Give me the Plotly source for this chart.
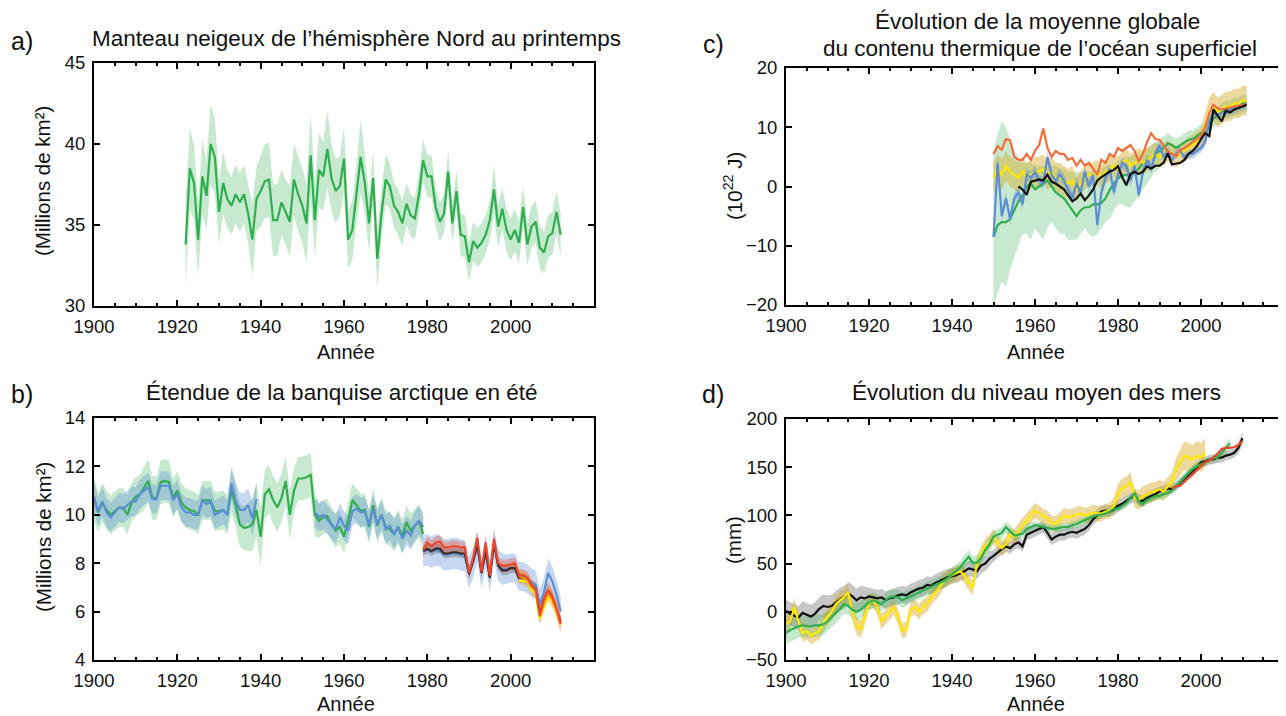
import plotly.graph_objects as go

# ---------------- DATA ----------------
X_TICKS = [1900, 1920, 1940, 1960, 1980, 2000]

# a) Northern Hemisphere spring snow cover (million km2)
snow_years = list(range(1922, 2013))
snow = [33.8, 38.5, 37.6, 34.1, 38.0, 36.8, 40.0, 39.2, 35.8, 37.6,
        36.6, 36.2, 36.9, 36.4, 36.9, 35.7, 34.1, 36.6, 37.1, 37.7,
        37.8, 35.3, 35.3, 36.4, 35.8, 35.2, 37.8, 36.9, 36.2, 35.1,
        39.3, 35.3, 38.4, 38.0, 39.7, 37.9, 37.1, 37.4, 39.1, 34.1,
        34.7, 36.9, 39.2, 37.6, 35.1, 37.9, 32.9, 35.7, 37.8, 37.4,
        36.2, 35.8, 35.1, 36.3, 35.6, 35.4, 36.9, 39.0, 38.0, 38.0,
        36.1, 35.2, 35.7, 38.3, 35.1, 37.1, 34.4, 34.3, 32.7, 34.0,
        33.6, 33.9, 34.4, 35.3, 37.2, 34.9, 36.0, 34.7, 34.1, 34.7,
        33.9, 36.1, 33.8, 34.9, 35.2, 33.6, 33.3, 34.3, 34.5, 35.8, 34.4]
snow_err = [2.6, 2.5, 2.3, 2.3, 2.3, 2.1, 2.5, 2.3, 2.0, 1.9,
            1.8, 1.8, 1.8, 1.8, 1.8, 1.8, 2.2, 2.0, 2.2, 2.3,
            2.3, 2.2, 2.2, 2.0, 2.0, 2.2, 2.2, 2.3, 2.3, 2.4,
            2.6, 2.2, 2.3, 2.1, 2.4, 2.0, 2.0, 1.8, 2.0, 1.8,
            1.8, 1.8, 2.3, 1.8, 1.8, 1.6, 1.8, 1.5, 1.5, 1.4,
            1.4, 1.4, 1.4, 1.3, 1.3, 1.3, 1.3, 1.3, 1.3, 1.3,
            1.2, 1.2, 1.2, 1.3, 1.2, 1.3, 1.3, 1.3, 1.2, 1.2,
            1.2, 1.2, 1.2, 1.2, 1.5, 1.3, 1.3, 1.3, 1.3, 1.3,
            1.3, 1.3, 1.3, 1.3, 1.3, 1.3, 1.3, 1.3, 1.3, 1.3, 1.3]

# b) Arctic summer sea-ice extent (million km2)
ice_green_years = list(range(1900, 1980))
ice_green = [10.65, 10.1, 10.5, 10.2, 10.0, 10.15, 10.3, 10.3, 10.0, 10.5,
             10.75, 10.85, 11.1, 11.4, 10.7, 10.7, 11.35, 11.4, 11.35, 10.7,
             11.0, 10.5, 10.3, 10.2, 10.15, 10.0, 10.6, 10.6, 10.6, 10.15,
             10.15, 10.2, 10.0, 11.0, 10.4, 9.6, 9.45, 9.5, 9.6, 10.2,
             9.1, 10.85, 11.05, 10.6, 10.3, 10.7, 11.4, 10.0, 11.0, 11.5,
             11.5, 11.55, 11.65, 10.0, 9.75, 9.9, 9.95, 9.6, 9.35, 9.5,
             9.1, 9.8, 10.6, 10.4, 10.15, 10.2, 9.5, 10.4, 9.55, 10.0,
             9.5, 9.4, 9.2, 9.5, 9.1, 9.7, 9.35, 9.55, 9.75, 9.2]
ice_green_err = [0.9, 0.8, 0.8, 0.8, 0.8, 0.8, 0.8, 0.8, 0.8, 0.8,
                 0.8, 0.8, 0.9, 0.9, 0.9, 0.9, 0.9, 0.9, 0.9, 0.8,
                 0.8, 0.8, 0.8, 0.8, 0.8, 0.8, 0.8, 0.8, 0.8, 0.8,
                 0.8, 0.8, 0.8, 0.9, 0.9, 0.9, 0.9, 1.0, 1.1, 1.1,
                 1.2, 1.0, 1.0, 1.0, 1.0, 1.0, 1.0, 1.0, 0.9, 0.9,
                 0.9, 0.9, 0.9, 0.9, 0.7, 0.7, 0.7, 0.7, 0.7, 0.7,
                 0.7, 0.7, 0.7, 0.7, 0.7, 0.7, 0.7, 0.7, 0.7, 0.7,
                 0.7, 0.7, 0.7, 0.7, 0.7, 0.7, 0.7, 0.7, 0.7, 0.7]
ice_blue1_years = list(range(1900, 1940))
ice_blue1 = [10.75, 10.15, 10.55, 10.1, 9.9, 10.1, 10.3, 10.25, 10.4, 10.55,
             10.55, 10.85, 11.0, 11.15, 10.65, 10.65, 11.2, 11.2, 11.2, 10.6,
             10.85, 10.3, 10.1, 10.1, 10.0, 10.0, 10.6, 10.45, 10.55, 10.0,
             10.1, 10.2, 10.0, 11.3, 10.6, 10.2, 10.2, 10.4, 9.85, 10.65]
ice_blue1_err = [0.6, 0.6, 0.6, 0.6, 0.6, 0.6, 0.6, 0.6, 0.6, 0.6,
                 0.6, 0.6, 0.6, 0.6, 0.6, 0.6, 0.6, 0.6, 0.6, 0.6,
                 0.6, 0.6, 0.6, 0.6, 0.6, 0.6, 0.6, 0.6, 0.6, 0.6,
                 0.6, 0.6, 0.6, 0.7, 0.7, 0.7, 0.7, 0.7, 0.7, 0.7]
ice_blue2_years = list(range(1953, 1980))
ice_blue2 = [10.1, 9.9, 10.0, 9.8, 9.6, 9.4, 9.9, 9.55, 9.35, 10.15,
             10.25, 10.1, 10.15, 9.6, 10.25, 9.6, 10.0, 9.4, 9.55, 9.2,
             9.5, 9.0, 9.35, 9.15, 9.55, 9.75, 9.5]
ice_blue2_err = [0.6, 0.6, 0.6, 0.6, 0.6, 0.6, 0.6, 0.6, 0.6, 0.6,
                 0.6, 0.6, 0.6, 0.6, 0.6, 0.6, 0.6, 0.6, 0.6, 0.6,
                 0.6, 0.6, 0.6, 0.6, 0.6, 0.6, 0.6]
sat_years = list(range(1979, 2013))
ice_red = [8.55, 8.85, 8.7, 8.85, 8.9, 8.65, 8.65, 8.7, 8.7, 8.65,
           8.65, 7.6, 8.2, 9.05, 7.65, 8.85, 7.5, 9.0, 8.0, 7.9,
           7.9, 7.95, 8.0, 7.5, 7.5, 7.4, 7.1, 6.95, 5.85, 6.55,
           6.9, 6.6, 6.15, 5.5]
ice_black = [8.5, 8.6, 8.5, 8.6, 8.6, 8.4, 8.4, 8.45, 8.45, 8.4,
             8.4, 7.55, 8.1, 8.8, 7.6, 8.5, 7.4, 8.85, 7.9, 7.7,
             7.7, 7.8, 7.8, 7.4, 7.4, 7.3, 7.05, 6.85, 5.95, 6.4,
             6.75, 6.55, 6.05, 5.6]
ice_blue3 = [8.5, 8.55, 8.45, 8.55, 8.5, 8.35, 8.35, 8.4, 8.4, 8.35,
             8.3, 7.6, 8.05, 8.7, 7.6, 8.45, 7.45, 8.8, 7.9, 7.75,
             7.75, 7.8, 7.8, 7.45, 7.45, 7.35, 7.2, 7.1, 6.3, 6.8,
             7.6, 7.25, 6.7, 6.0]
ice_blue3_err = [0.65, 0.65, 0.65, 0.65, 0.65, 0.65, 0.65, 0.65, 0.65, 0.65,
                 0.65, 0.65, 0.65, 0.65, 0.65, 0.65, 0.65, 0.65, 0.65, 0.65,
                 0.6, 0.6, 0.6, 0.6, 0.6, 0.6, 0.6, 0.6, 0.6, 0.6,
                 0.6, 0.6, 0.6, 0.6]
ice_red_err = [0.25, 0.25, 0.25, 0.25, 0.25, 0.25, 0.25, 0.25, 0.25, 0.25,
               0.25, 0.25, 0.25, 0.25, 0.25, 0.25, 0.25, 0.25, 0.25, 0.25,
               0.25, 0.25, 0.25, 0.25, 0.25, 0.25, 0.25, 0.25, 0.3, 0.3,
               0.3, 0.3, 0.3, 0.3]
ice_black_err = [0.2, 0.2, 0.2, 0.2, 0.2, 0.2, 0.2, 0.2, 0.2, 0.2,
                 0.2, 0.2, 0.2, 0.2, 0.2, 0.2, 0.2, 0.2, 0.2, 0.2,
                 0.2, 0.2, 0.2, 0.2, 0.2, 0.2, 0.2, 0.2, 0.2, 0.2,
                 0.2, 0.2, 0.2, 0.2]
late_years = list(range(2002, 2013))
ice_orange = [7.45, 7.4, 7.3, 7.0, 6.85, 5.8, 6.35, 6.75, 6.5, 6.05, 5.5]
ice_orange_err = [0.3, 0.3, 0.3, 0.3, 0.3, 0.35, 0.35, 0.35, 0.35, 0.35, 0.35]
ice_yellow = [7.3, 7.25, 7.25, 6.9, 6.75, 5.7, 6.2, 6.6, 6.4, 6.0, 5.45]

# c) Global upper ocean heat content (10^22 J)
ohc_years = list(range(1950, 2012))
ohc_red = [5.5, 6.8, 6.2, 8.0, 7.8, 5.0, 4.5, 4.5, 5.5, 4.5,
           6.0, 7.0, 9.8, 6.5, 5.0, 6.0, 5.5, 5.5, 4.5, 4.8,
           3.5, 4.5, 3.5, 4.0, 3.0, 2.0, 4.5, 4.0, 5.5, 5.0,
           6.5, 6.0, 6.5, 7.0, 6.0, 4.2, 5.5, 7.5, 9.0, 8.0,
           7.9, 7.0, 5.9, 5.5, 5.1, 6.2, 6.5, 7.0, 7.5, 7.9,
           8.5, 10.0, 12.4, 13.8, 13.2, 13.0, 13.2, 13.4, 13.5, 13.6,
           13.8, 13.9]
ohc_yellow = [1.5, 3.0, 2.0, 3.5, 2.5, 2.0, 1.5, 2.5, 1.5, 2.0,
              2.5, 2.5, 3.0, 2.0, 2.5, 1.5, 1.5, 1.0, 0.5, 1.0,
              -0.5, 0.5, 1.5, 2.0, 2.0, 2.5, 1.5, 2.5, 3.0, 3.5,
              3.0, 4.0, 4.5, 3.5, 4.0, 4.5, 4.0, 4.5, 5.0, 5.5,
              5.0, 5.5, 6.0, 5.5, 5.0, 5.5, 6.0, 6.5, 7.0, 7.5,
              8.0, 10.5, 12.5, 13.5, 12.5, 13.0, 13.5, 13.5, 14.0, 14.0,
              14.5, 14.5]
ohc_yellow_err = [2.5, 2.5, 2.5, 2.5, 2.5, 2.5, 2.5, 2.5, 2.5, 2.5,
                  2.5, 2.5, 2.5, 2.5, 2.5, 2.5, 2.5, 2.5, 2.5, 2.5,
                  2.0, 2.0, 2.0, 2.0, 2.0, 2.0, 2.0, 2.0, 2.0, 2.0,
                  2.0, 2.0, 2.0, 2.0, 2.0, 2.0, 2.0, 2.0, 2.0, 2.0,
                  1.8, 1.8, 1.8, 1.8, 1.8, 1.8, 1.8, 1.8, 1.8, 1.8,
                  1.8, 2.0, 2.5, 2.5, 2.5, 2.5, 2.5, 2.5, 2.5, 2.5,
                  2.5, 2.5]
ohc_blue = [-8.5, 4.0, -5.0, -2.0, -5.5, -2.0, -1.0, -3.0, 2.0, 1.5,
            2.5, 1.0, 0.5, 5.0, 2.0, 1.0, 2.0, 1.0, -0.5, -2.0,
            0.5, -1.0, 2.5, 0.0, 2.0, -6.5, -1.0, 1.5, 3.0, -1.0,
            2.0, 4.0, 3.5, 1.0, 3.5, -1.5, 2.5, 4.5, 3.0, 5.5,
            7.0, 5.0, 6.0, 4.5, 5.5, 6.0, 5.0, 5.5, 5.5, 6.0,
            6.5, 7.5, 11.0, 12.5, 12.0, 12.5, 12.5, 13.0, 13.0, 13.5,
            13.5, 14.0]
ohc_blue_err = [1.0, 1.0, 1.0, 1.0, 1.0, 1.0, 1.0, 1.0, 1.0, 1.0,
                1.0, 1.0, 1.0, 1.0, 1.0, 1.0, 1.0, 1.0, 1.0, 1.0,
                1.0, 1.0, 1.0, 1.0, 1.0, 1.0, 1.0, 1.0, 1.0, 1.0,
                1.0, 1.0, 1.0, 1.0, 1.0, 1.0, 1.0, 1.0, 1.0, 1.0,
                0.8, 0.8, 0.8, 0.8, 0.8, 0.8, 0.8, 0.8, 0.8, 0.8,
                0.8, 0.8, 0.8, 0.8, 0.8, 0.8, 0.8, 0.8, 0.8, 0.8,
                0.8, 0.8]
ohc_green = [-8.5, -6.5, -6.0, -6.0, -5.5, -4.0, -2.5, -1.5, 0.0, 0.5,
             -0.5, 0.0, 0.5, 1.0, 0.0, -1.0, -1.5, -2.0, -3.0, -4.0,
             -5.0, -4.0, -3.5, -3.5, -3.0, -3.0, -2.8, -2.0, -0.6, 0.5,
             1.4, 1.8, 2.0, 1.5, 2.5, 3.0, 4.0, 4.5, 5.0, 5.5,
             6.0, 6.5, 7.3, 7.0, 6.5, 7.0, 7.5, 7.9, 8.0, 8.5,
             9.0, 9.0, 10.0, 11.5, 12.0, 12.5, 13.0, 13.0, 13.5, 13.5,
             14.0, 14.0]
ohc_green_hi = [6.0, 9.0, 11.0, 10.0, 8.0, 6.0, 5.0, 4.0, 4.0, 4.0,
                3.5, 3.5, 3.5, 3.5, 3.5, 3.5, 3.0, 3.0, 2.5, 2.5,
                2.5, 2.5, 2.5, 2.5, 2.5, 2.5, 3.0, 3.5, 3.5, 3.5,
                4.5, 4.5, 5.0, 5.0, 5.5, 5.5, 6.0, 6.5, 7.0, 7.5,
                8.0, 8.5, 9.0, 8.5, 8.0, 8.5, 9.0, 9.5, 9.5, 10.0,
                10.5, 10.5, 11.5, 13.0, 13.5, 14.0, 14.5, 14.5, 15.0, 15.0,
                15.5, 15.5]
ohc_green_lo = [-20.0, -18.0, -16.0, -17.0, -14.0, -12.0, -10.0, -8.0, -8.0, -9.0,
                -7.0, -8.0, -9.0, -7.0, -6.0, -7.0, -8.0, -8.0, -9.0, -9.0,
                -9.0, -8.0, -7.0, -8.0, -8.5, -8.0, -7.0, -6.0, -5.5, -4.0,
                -3.0, -3.0, -3.5, -3.5, -2.5, -1.5, -0.5, 0.5, 1.5, 2.5,
                3.0, 4.5, 5.5, 5.5, 5.0, 5.5, 6.0, 6.5, 6.5, 7.0,
                7.5, 7.5, 8.5, 10.0, 10.5, 11.0, 11.5, 11.5, 12.0, 12.0,
                12.5, 12.5]
ohc_black_years = list(range(1956, 2012))
ohc_black = [0.0, -0.5, -1.4, 0.8,
             1.0, 1.2, 1.0, 2.0, 0.8, 0.5, 0.0, -0.5, -1.5, -2.5,
             -2.0, -1.2, -2.3, -1.5, -0.5, 1.0, 1.6, 2.1, 2.5, 2.8,
             3.4, 1.6, 0.2, 2.1, 2.5, 2.1, 2.5, 3.4, 3.0, 3.5,
             3.5, 4.0, 5.6, 3.7, 3.8, 4.0, 4.5, 5.5, 6.0, 6.8,
             8.0, 9.0, 8.5, 13.0, 12.0, 11.0, 12.8, 12.5, 13.0, 13.2,
             13.5, 13.8]

# d) Global mean sea level (mm)
sl_black_years = list(range(1900, 2011))
sl_black = [1, -2, -4, -6, -1, -3, -5, -2, 3, 6,
            5, 6, 10, 13, 15, 19, 16, 12, 15, 14,
            16, 15, 14, 15, 12, 14, 15, 17, 18, 17,
            20, 22, 24, 25, 28, 27, 30, 32, 34, 36,
            37, 38, 40, 42, 45, 44, 42, 48, 50, 55,
            58, 62, 65, 68, 66, 70, 72, 68, 80, 82,
            84, 86, 88, 82, 75, 78, 80, 80, 82, 83,
            82, 84, 86, 90, 96, 100, 104, 105, 104, 106,
            110, 112, 115, 118, 120, 116, 115, 118, 120, 122,
            125, 126, 128, 127, 130, 134, 138, 142, 145, 150,
            155, 156, 158, 158, 160, 160, 162, 163, 165, 170,
            180]
sl_black_err = [12, 12, 12, 12, 12, 12, 12, 12, 12, 12,
                12, 12, 12, 12, 12, 12, 12, 12, 12, 12,
                9, 9, 9, 9, 9, 9, 9, 9, 9, 9,
                9, 9, 9, 9, 9, 9, 9, 9, 9, 9,
                8, 8, 8, 8, 8, 8, 8, 8, 8, 8,
                6, 6, 6, 6, 6, 6, 6, 6, 6, 6,
                6, 6, 6, 6, 6, 6, 6, 6, 6, 6,
                6, 6, 6, 6, 6, 6, 6, 6, 6, 6,
                6, 6, 6, 6, 6, 6, 6, 6, 6, 6,
                5, 5, 5, 5, 5, 5, 5, 5, 5, 5,
                5, 5, 5, 5, 5, 5, 5, 5, 5, 6,
                7]
sl_green_years = list(range(1900, 2008))
sl_green = [-22, -19, -17, -15, -14, -15, -15, -14, -14, -13,
            -10, -6, -2, 3, 8, 6, 2, 0, 2, 6,
            10, 12, 10, 8, 12, 15, 16, 15, 12, 14,
            16, 18, 20, 22, 24, 26, 28, 30, 32, 35,
            39, 42, 46, 52, 57, 51, 51, 56, 64, 70,
            78, 80, 82, 88, 84, 79, 80, 81, 86, 88,
            90, 89, 88, 87, 86, 86, 87, 88, 88, 90,
            91, 93, 95, 97, 99, 100, 101, 102, 104, 107,
            107, 110, 113, 118, 123, 114, 112, 116, 118, 120,
            120, 122, 123, 126, 130, 135, 140, 144, 148, 151,
            153, 155, 157, 159, 160, 165, 170, 175]
sl_green_err = [12, 12, 12, 12, 12, 12, 12, 12, 11, 11,
                10, 10, 10, 10, 10, 9, 9, 9, 9, 9,
                8, 8, 8, 8, 8, 8, 8, 8, 8, 8,
                7, 7, 7, 7, 7, 7, 7, 7, 7, 7,
                7, 7, 7, 7, 7, 7, 7, 7, 7, 7,
                6, 6, 6, 6, 6, 5, 5, 5, 5, 5,
                4, 4, 4, 4, 4, 4, 4, 4, 4, 4,
                4, 4, 4, 4, 4, 4, 4, 4, 4, 4,
                4, 4, 4, 4, 4, 4, 4, 4, 4, 4,
                4, 4, 4, 4, 4, 4, 4, 4, 4, 4,
                4, 4, 4, 4, 5, 5, 5, 5]
sl_yellow_years = list(range(1900, 2002))
sl_yellow = [-12, -10, 5, -10, -22, -20, -25, -22, -20, -12,
             -5, 0, 8, 12, 15, 20, 0, -15, -18, -5,
             10, 12, 5, -10, -5, 0, 5, -5, -20, -18,
             2, 5, 0, 5, 8, 15, 20, 25, 32, 35,
             38, 40, 42, 38, 30, 25, 50, 60, 68, 72,
             78, 72, 66, 70, 80, 78, 84, 90, 95, 100,
             105, 102, 99, 97, 92, 91, 95, 100, 98, 99,
             101, 102, 100, 101, 103, 102, 102, 104, 105, 110,
             123, 128, 130, 135, 118, 116, 120, 122, 124, 125,
             127, 125, 130, 135, 148, 155, 162, 160, 158, 162,
             160, 165]
sl_yellow_err = [9, 9, 9, 9, 9, 9, 9, 9, 9, 9,
                 9, 9, 9, 9, 9, 9, 9, 9, 9, 9,
                 8, 8, 8, 8, 8, 8, 8, 8, 8, 8,
                 8, 8, 8, 8, 8, 8, 8, 8, 8, 8,
                 8, 8, 8, 8, 8, 8, 8, 8, 8, 8,
                 8, 8, 8, 8, 8, 8, 8, 8, 8, 8,
                 8, 8, 8, 8, 8, 8, 8, 8, 8, 8,
                 8, 8, 8, 8, 8, 8, 8, 8, 8, 8,
                 10, 10, 10, 10, 10, 10, 10, 10, 10, 10,
                 10, 10, 10, 10, 12, 14, 15, 15, 15, 15,
                 15, 15]
sl_red_years = list(range(1993, 2011))
sl_red = [128, 130, 131, 135, 139, 143, 148, 151, 155, 157,
          160, 164, 169, 170, 170, 171, 173, 177]

# ---------------- STYLE ----------------
FONT = "Liberation Sans, Arial, Helvetica, sans-serif"
GREEN = "#2fae4e"
GREEN_BAND = "rgba(47,174,78,0.27)"
BLUE = "#5b8ed6"
BLUE_BAND = "rgba(91,142,214,0.35)"
RED = "#ec4527"
RED_BAND = "rgba(236,69,39,0.35)"
ORANGE = "#f7941d"
ORANGE_BAND = "rgba(247,148,29,0.35)"
YELLOW = "#ffe800"
TAN_BAND = "rgba(214,170,40,0.45)"
BLACK = "#111111"
GRAY_BAND = "rgba(70,70,70,0.30)"
OHC_RED = "#f26b3a"

# The page body keeps its default 8px margin, so the figure is drawn 8px in
PAGE_OFF = 8
W, H = 1278, 708

fig = go.Figure()


def band(x, lo, hi, color, ax):
    fig.add_trace(go.Scatter(x=list(x) + list(x)[::-1], y=list(hi) + list(lo)[::-1],
                             fill="toself", fillcolor=color, line=dict(width=0),
                             mode="lines", hoverinfo="skip", showlegend=False,
                             xaxis="x" + ax, yaxis="y" + ax))


def band_err(x, v, e, color, ax):
    band(x, [a - b for a, b in zip(v, e)], [a + b for a, b in zip(v, e)], color, ax)


def line(x, y, color, ax, width=2.2):
    fig.add_trace(go.Scatter(x=x, y=y, mode="lines", line=dict(color=color, width=width),
                             showlegend=False, xaxis="x" + ax, yaxis="y" + ax))


# a)
band_err(snow_years, snow, snow_err, GREEN_BAND, "")
line(snow_years, snow, GREEN, "")

# b)
band_err(ice_green_years, ice_green, ice_green_err, GREEN_BAND, "2")
band_err(ice_blue1_years, ice_blue1, ice_blue1_err, BLUE_BAND, "2")
band_err(ice_blue2_years, ice_blue2, ice_blue2_err, BLUE_BAND, "2")
line(ice_green_years, ice_green, GREEN, "2")
line(ice_blue1_years, ice_blue1, BLUE, "2")
line(ice_blue2_years, ice_blue2, BLUE, "2")
band_err(sat_years, ice_blue3, ice_blue3_err, BLUE_BAND, "2")
band_err(sat_years, ice_black, ice_black_err, GRAY_BAND, "2")
band_err(sat_years, ice_red, ice_red_err, RED_BAND, "2")
band_err(late_years, ice_orange, ice_orange_err, ORANGE_BAND, "2")
line(sat_years, ice_blue3, BLUE, "2")
line(sat_years, ice_black, "#3a2a22", "2")
line(late_years, ice_yellow, YELLOW, "2")
line(late_years, ice_orange, ORANGE, "2")
line(sat_years, ice_red, RED, "2")

# c)
band(ohc_years, ohc_green_lo, ohc_green_hi, GREEN_BAND, "3")
band_err(ohc_years, ohc_yellow, ohc_yellow_err, TAN_BAND, "3")
band_err(ohc_years, ohc_blue, ohc_blue_err, BLUE_BAND, "3")
line(ohc_years, ohc_green, GREEN, "3")
line(ohc_years, ohc_yellow, YELLOW, "3")
line(ohc_years, ohc_blue, BLUE, "3")
line(ohc_years, ohc_red, OHC_RED, "3")
line(ohc_black_years, ohc_black, BLACK, "3")

# d)
band_err(sl_black_years, sl_black, sl_black_err, GRAY_BAND, "4")
band_err(sl_yellow_years, sl_yellow, sl_yellow_err, TAN_BAND, "4")
band_err(sl_green_years, sl_green, sl_green_err, GREEN_BAND, "4")
line(sl_black_years, sl_black, BLACK, "4")
line(sl_yellow_years, sl_yellow, YELLOW, "4")
line(sl_green_years, sl_green, GREEN, "4")
line(sl_red_years, sl_red, RED, "4")


def px_x(p):
    return (p - PAGE_OFF) / W


def px_y(p):
    return 1 - (p - PAGE_OFF) / H


TICKFONT = dict(family=FONT, size=18.5, color="#111")


def xaxis(dom, anchor):
    return dict(domain=dom, anchor=anchor, range=[1900, 2020], tickmode="array",
                tickvals=X_TICKS, ticktext=[str(v) for v in X_TICKS],
                ticks="inside", ticklen=6, tickwidth=2, tickcolor="black",
                showline=True, linewidth=2, linecolor="black", mirror="ticks",
                showgrid=False, zeroline=False, tickfont=TICKFONT, automargin=False,
                ticklabelstandoff=3,
                minor=dict(ticks="inside", ticklen=3, tickwidth=2, tickcolor="black",
                           tickmode="linear", tick0=1900, dtick=5, showgrid=False),
                fixedrange=True)


def yaxis(dom, anchor, rng, dtick):
    return dict(domain=dom, anchor=anchor, range=rng, dtick=dtick, tick0=rng[0],
                ticks="inside", ticklen=6, tickwidth=2, tickcolor="black",
                showline=True, linewidth=2, linecolor="black", mirror="ticks",
                showgrid=False, zeroline=False, tickfont=TICKFONT, ticklabelstandoff=3,
                automargin=False, fixedrange=True)


LX = [px_x(94), px_x(594)]
RX = [px_x(786), px_x(1284)]
AY = [px_y(306), px_y(63)]
BY = [px_y(660), px_y(418)]
CY = [px_y(305), px_y(68)]
DY = [px_y(660), px_y(419)]

fig.update_layout(
    width=W, height=H, margin=dict(l=0, r=0, t=0, b=0, autoexpand=False),
    paper_bgcolor="white", plot_bgcolor="white", showlegend=False,
    font=dict(family=FONT, color="#111"),
    xaxis=xaxis(LX, "y"), yaxis=yaxis(AY, "x", [30, 45], 5),
    xaxis2=xaxis(LX, "y2"), yaxis2=yaxis(BY, "x2", [4, 14], 2),
    xaxis3=xaxis(RX, "y3"), yaxis3=yaxis(CY, "x3", [-20, 20], 10),
    xaxis4=xaxis(RX, "y4"), yaxis4=yaxis(DY, "x4", [-50, 200], 50),
)

ann = []


def text(x, y, s, size, angle=0, xanchor="center"):
    ann.append(dict(x=px_x(x), y=px_y(y), xref="paper", yref="paper", text=s,
                    showarrow=False, xanchor=xanchor, yanchor="middle", textangle=angle,
                    font=dict(family=FONT, size=size, color="#111")))


TS = 22.5
LS = 25
text(22, 41, "a)", LS)
text(356, 39, "Manteau neigeux de l’hémisphère Nord au printemps", TS)
text(22, 394, "b)", LS)
text(342, 393, "Étendue de la banquise arctique en été", TS)
text(713, 44, "c)", LS)
text(1037, 22, "Évolution de la moyenne globale", TS)
text(1040, 48, "du contenu thermique de l’océan superficiel", TS)
text(713, 394, "d)", LS)
text(1036, 393, "Évolution du niveau moyen des mers", TS)
text(346, 352, "Année", 20)
text(346, 704, "Année", 20)
text(1036, 352, "Année", 20)
text(1036, 704, "Année", 20)
text(43, 181, "(Millions de km²)", 20.5, -90)
text(43, 537, "(Millions de km²)", 20.5, -90)
text(733, 186, "(10<sup>22</sup> J)", 20.5, -90)
text(733, 540, "(mm)", 20.5, -90)
fig.update_layout(annotations=ann)

fig.write_html("out.html")
